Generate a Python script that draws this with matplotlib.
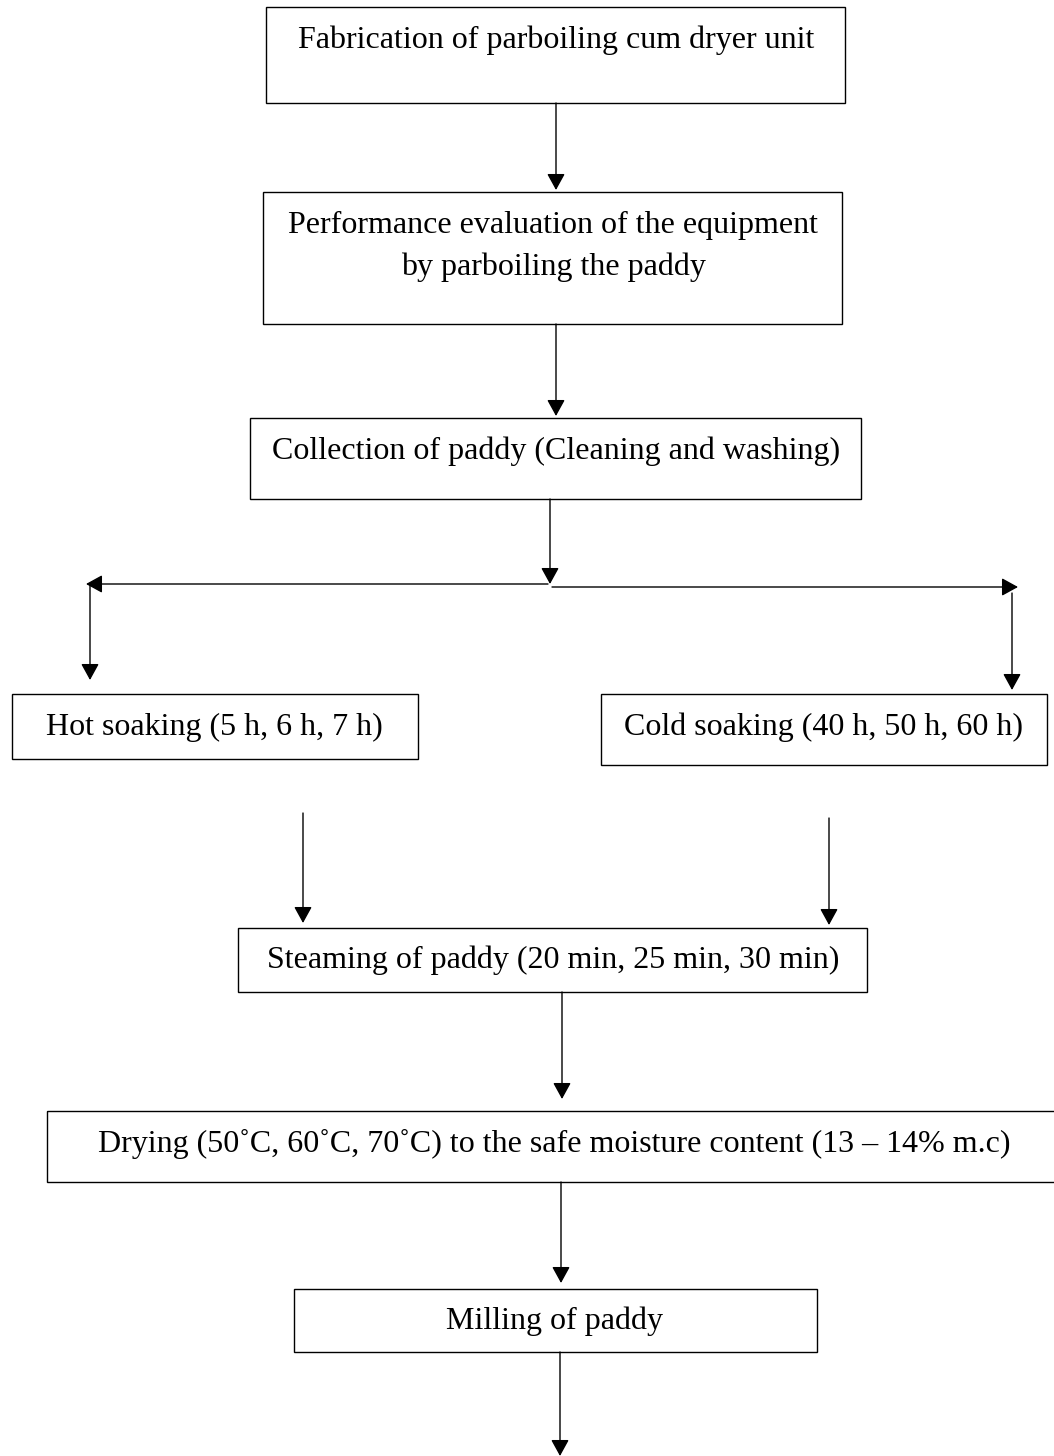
import matplotlib
matplotlib.use("Agg")
import matplotlib.pyplot as plt
from matplotlib.patches import Rectangle

# step labels of the flow chart
steps = [
    "Fabrication of parboiling cum dryer unit",
    "Performance evaluation of the equipment\nby parboiling the paddy",
    "Collection of paddy (Cleaning and washing)",
    "Hot soaking (5 h, 6 h, 7 h)",
    "Cold soaking (40 h, 50 h, 60 h)",
    "Steaming of paddy (20 min, 25 min, 30 min)",
    "Drying (50\u02daC, 60\u02daC, 70\u02daC) to the safe moisture content (13 \u2013 14% m.c)",
    "Milling of paddy",
]

# layout in pixels: box (left, top, right, bottom), text centre x, first baseline y
boxes = [
    (266, 7, 845, 103, 556, 48),
    (263, 192, 842, 324, 553, 233),
    (250, 418, 861, 499, 556, 459),
    (12, 694, 418, 759, 214, 735),
    (601, 694, 1047, 765, 823, 735),
    (238, 928, 867, 992, 553, 968),
    (47, 1111, 1060, 1182, 554, 1152),
    (294, 1289, 817, 1352, 554, 1329),
]

# arrows (x0, y0, x1, y1) with head at the end
arrows = [
    (556, 103, 556, 190),
    (556, 324, 556, 416),
    (550, 499, 550, 584),
    (548, 584, 86, 584),
    (552, 587, 1018, 587),
    (90, 585, 90, 680),
    (1012, 593, 1012, 690),
    (303, 813, 303, 923),
    (829, 818, 829, 925),
    (562, 992, 562, 1099),
    (561, 1182, 561, 1283),
    (560, 1352, 560, 1456),
]

plt.rcParams["font.family"] = ["Liberation Serif", "DejaVu Serif"]

fig = plt.figure(figsize=(10.54, 14.56), dpi=100)
ax = fig.add_axes([0, 0, 1, 1])
ax.set_xlim(0, 1054)
ax.set_ylim(1456, 0)
ax.axis("off")

for label, (l, t, r, b, tx, ty) in zip(steps, boxes):
    ax.add_patch(Rectangle((l, t), r - l, b - t, fill=False, edgecolor="black", linewidth=1.0))
    for i, line in enumerate(label.split("\n")):
        ax.text(tx, ty + i * 42, line, ha="center", va="baseline", fontsize=23)

for x0, y0, x1, y1 in arrows:
    ax.annotate("", xy=(x1, y1), xytext=(x0, y0),
                arrowprops=dict(arrowstyle="-|>,head_length=1.0,head_width=0.55",
                                color="black", linewidth=1.0, mutation_scale=10,
                                shrinkA=0, shrinkB=0))

fig.savefig("out.png", dpi=100)
